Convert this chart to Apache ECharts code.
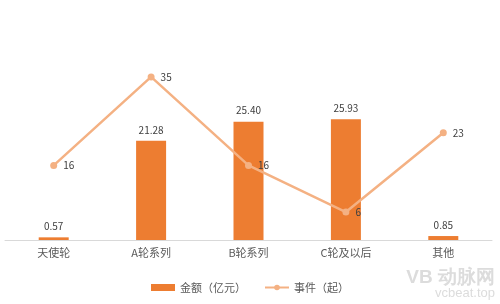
<!DOCTYPE html>
<html><head><meta charset="utf-8">
<script src="https://cdn.jsdelivr.net/npm/echarts@6/dist/echarts.min.js"></script>
<style>html,body{margin:0;padding:0;background:#fff}#c{width:500px;height:304px}</style>
</head><body><div id="c"></div>
<script>
const categories = ['天使轮', 'A轮系列', 'B轮系列', 'C轮及以后', '其他'];
const amounts = [0.57, 21.28, 25.40, 25.93, 0.85];
const events = [16, 35, 16, 6, 23];
const amountName = '金额（亿元）';
const eventName = '事件（起）';

const chart = echarts.init(document.getElementById('c'));
chart.setOption({
  animation: false,
  textStyle: { fontFamily: '"Noto Sans CJK SC", "Noto Sans", sans-serif' },
  grid: { left: 5, right: 8, top: 7, bottom: 64, containLabel: false },
  legend: {
    bottom: 6, left: 'center', itemGap: 18, itemWidth: 24, itemHeight: 7,
    textStyle: { fontSize: 11, color: '#595959' },
    data: [
      { name: amountName, icon: 'rect' },
      { name: eventName }
    ]
  },
  xAxis: {
    type: 'category', data: categories,
    axisLine: { lineStyle: { color: '#d9d9d9' } },
    axisTick: { show: false },
    axisLabel: { fontSize: 11, color: '#595959', margin: 7 }
  },
  yAxis: [
    { type: 'value', min: 0, max: 50, show: false, splitLine: { show: false } },
    { type: 'value', min: 0, max: 50, show: false, splitLine: { show: false } }
  ],
  series: [
    {
      name: amountName, type: 'bar', data: amounts, barWidth: 30,
      itemStyle: { color: '#ED7D31' },
      label: { show: true, position: 'top', fontSize: 10, color: '#404040', distance: 6,
        formatter: p => p.value.toFixed(2) }
    },
    {
      name: eventName, type: 'line', yAxisIndex: 1, data: events,
      symbol: 'circle', symbolSize: 7,
      lineStyle: { color: '#F4B183', width: 2.5 },
      itemStyle: { color: '#F4B183' },
      label: { show: true, position: 'right', fontSize: 10, color: '#404040', distance: 6 }
    }
  ],
  graphic: [
    { type: 'text', right: 5, bottom: 17, style: { text: 'VB 动脉网', fontSize: 19, fill: '#dcdcdc', fontWeight: 'bold' } },
    { type: 'text', right: 5, bottom: 4, style: { text: 'vcbeat.top', fontSize: 13, fill: '#dcdcdc' } }
  ]
});
</script></body></html>
